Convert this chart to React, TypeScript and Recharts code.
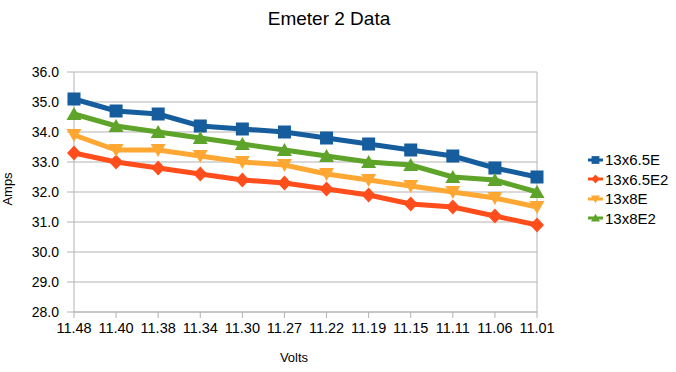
import React from 'react';
import { LineChart, Line, XAxis, YAxis, CartesianGrid, ReferenceLine } from 'recharts';

const volts = ['11.48', '11.40', '11.38', '11.34', '11.30', '11.27', '11.22', '11.19', '11.15', '11.11', '11.06', '11.01'];
const s13x65E = [35.1, 34.7, 34.6, 34.2, 34.1, 34.0, 33.8, 33.6, 33.4, 33.2, 32.8, 32.5];
const s13x65E2 = [33.3, 33.0, 32.8, 32.6, 32.4, 32.3, 32.1, 31.9, 31.6, 31.5, 31.2, 30.9];
const s13x8E = [33.9, 33.4, 33.4, 33.2, 33.0, 32.9, 32.6, 32.4, 32.2, 32.0, 31.8, 31.5];
const s13x8E2 = [34.6, 34.2, 34.0, 33.8, 33.6, 33.4, 33.2, 33.0, 32.9, 32.5, 32.4, 32.0];
const yTicks = [28, 29, 30, 31, 32, 33, 34, 35, 36];

const data = volts.map((v, i) => ({
  volts: v,
  a: s13x65E[i],
  b: s13x65E2[i],
  c: s13x8E[i],
  d: s13x8E2[i],
}));

const FONT = '"Liberation Sans", Arial, sans-serif';

const series = [
  { key: 'a', name: '13x6.5E', color: '#165d9e', shape: 'square' },
  { key: 'b', name: '13x6.5E2', color: '#ff4d1c', shape: 'diamond' },
  { key: 'c', name: '13x8E', color: '#ffa733', shape: 'down' },
  { key: 'd', name: '13x8E2', color: '#5ea32a', shape: 'up' },
];

function Marker({ cx, cy, color, shape, s = 1 }: any) {
  if (cx == null || cy == null) return null;
  if (shape === 'square') {
    return <rect x={cx - 6.5 * s} y={cy - 6.5 * s} width={13 * s} height={13 * s} fill={color} />;
  }
  if (shape === 'diamond') {
    return <polygon points={`${cx},${cy - 7.5 * s} ${cx + 7 * s},${cy} ${cx},${cy + 7.5 * s} ${cx - 7 * s},${cy}`} fill={color} />;
  }
  if (shape === 'down') {
    return <polygon points={`${cx - 7.5 * s},${cy - 6 * s} ${cx + 7.5 * s},${cy - 6 * s} ${cx},${cy + 7 * s}`} fill={color} />;
  }
  return <polygon points={`${cx - 7.5 * s},${cy + 6 * s} ${cx + 7.5 * s},${cy + 6 * s} ${cx},${cy - 7 * s}`} fill={color} />;
}

function LegendBox() {
  return (
    <div style={{ position: 'absolute', left: 587, top: 150, fontFamily: FONT, fontSize: 15, color: '#000' }}>
      {series.map((s) => (
        <div key={s.key} style={{ display: 'flex', alignItems: 'center', height: 19.5 }}>
          <svg width={17} height={12} style={{ marginRight: 1 }}>
            <line x1={1} y1={6} x2={16} y2={6} stroke={s.color} strokeWidth={3} />
            <Marker cx={8.5} cy={6} color={s.color} shape={s.shape} s={0.6} />
          </svg>
          <span>{s.name}</span>
        </div>
      ))}
    </div>
  );
}

export default function App() {
  return (
    <div style={{ position: 'absolute', left: 0, top: 0, width: 676, height: 372, background: '#fff' }}>
      <div
        style={{
          position: 'absolute',
          left: 0,
          width: 658,
          top: 8,
          textAlign: 'center',
          fontFamily: FONT,
          fontSize: 19,
          color: '#000',
          zIndex: 2,
        }}
      >
        Emeter 2 Data
      </div>
      <LineChart width={676} height={372} data={data} margin={{ top: 72, right: 139, bottom: 0, left: 0 }}>
        <CartesianGrid horizontal={true} vertical={false} stroke="#b3b3b3" strokeWidth={1} />
        <XAxis
          dataKey="volts"
          height={60}
          tick={{ fontFamily: FONT, fontSize: 14.5, fill: '#000' }}
          tickLine={{ stroke: '#b3b3b3' }}
          axisLine={{ stroke: '#b3b3b3' }}
          tickSize={6}
          tickMargin={5}
          interval={0}
          label={{
            value: 'Volts',
            content: () => (
              <text x={294} y={362} textAnchor="middle" fontFamily={FONT} fontSize={13} fill="#000">
                Volts
              </text>
            ),
          }}
        />
        <YAxis
          width={74}
          domain={[28, 36]}
          ticks={yTicks}
          tickFormatter={(v: number) => v.toFixed(1)}
          tick={{ fontFamily: FONT, fontSize: 14, fill: '#000' }}
          tickLine={{ stroke: '#b3b3b3' }}
          axisLine={{ stroke: '#b3b3b3' }}
          tickSize={7}
          tickMargin={8}
          allowDataOverflow={true}
          label={{
            value: 'Amps',
            content: () => (
              <text x={12} y={189} textAnchor="middle" fontFamily={FONT} fontSize={13} fill="#000" transform="rotate(-90 12 189)">
                Amps
              </text>
            ),
          }}
        />
        <ReferenceLine x="11.01" stroke="#b3b3b3" strokeWidth={1} />
        {series.map((s) => (
          <Line
            key={s.key}
            type="linear"
            dataKey={s.key}
            name={s.name}
            stroke={s.color}
            strokeWidth={5}
            isAnimationActive={false}
            dot={(p: any) => <Marker key={`${s.key}-${p.index}`} cx={p.cx} cy={p.cy} color={s.color} shape={s.shape} />}
            activeDot={false}
          />
        ))}
      </LineChart>
      <LegendBox />
    </div>
  );
}
